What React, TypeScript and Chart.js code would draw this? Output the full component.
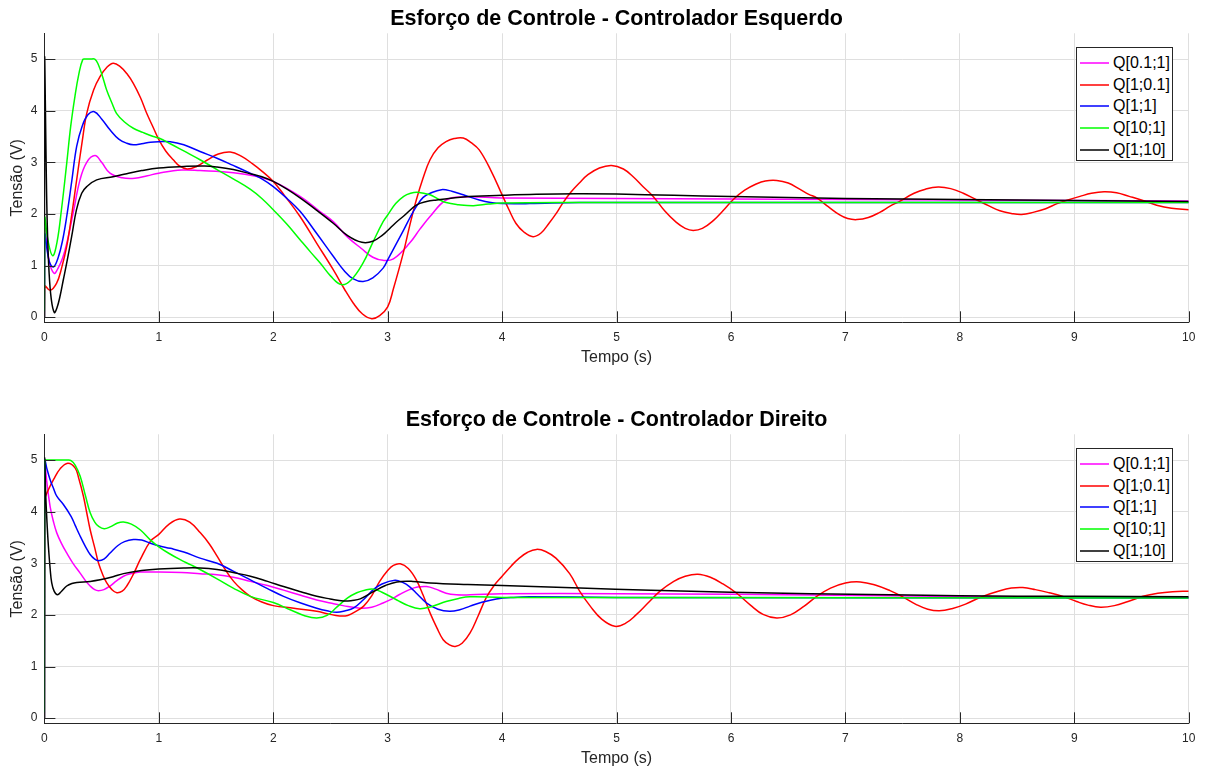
import React, { useEffect, useRef } from "react";
import { Chart, registerables } from "chart.js";

Chart.register(...registerables);

// Legend entries shared by both panels
const seriesLabels = ["Q[0.1;1]", "Q[1;0.1]", "Q[1;1]", "Q[10;1]", "Q[1;10]"];
const seriesColors = ["#ff00ff", "#ff0000", "#0000ff", "#00ff00", "#000000"];

const xTickValues = [0, 1, 2, 3, 4, 5, 6, 7, 8, 9, 10];
const yTickValues = [0, 1, 2, 3, 4, 5];

// Left controller: [time (s), voltage (V)]
const esqQ01_1: [number, number][] = [
  [0, 0], [0.003, 1.75], [0.04, 1.1], [0.084, 0.85], [0.12, 0.95], [0.16, 1.15], [0.195, 1.43],
  [0.25, 2.0], [0.311, 2.66], [0.37, 3.0], [0.442, 3.13], [0.5, 3.0], [0.573, 2.79], [0.68, 2.7],
  [0.79, 2.69], [0.9, 2.74], [1.0, 2.79], [1.2, 2.85], [1.36, 2.84], [1.653, 2.8], [1.85, 2.73],
  [2.0, 2.63], [2.234, 2.34], [2.4, 2.06], [2.524, 1.85], [2.65, 1.55], [2.77, 1.33], [2.87, 1.16],
  [2.96, 1.1], [3.05, 1.13], [3.19, 1.43], [3.28, 1.7], [3.37, 1.95], [3.51, 2.27], [3.66, 2.33],
  [4.0, 2.31], [5.0, 2.3], [6.0, 2.29], [7.0, 2.28], [8.0, 2.27], [9.0, 2.26], [10, 2.25],
];
const esqQ1_01: [number, number][] = [
  [0, 0], [0.003, 0.6], [0.05, 0.52], [0.107, 0.66], [0.15, 0.95], [0.195, 1.37], [0.24, 2.0],
  [0.282, 2.66], [0.33, 3.4], [0.37, 3.95], [0.43, 4.4], [0.486, 4.66], [0.55, 4.85], [0.602, 4.92],
  [0.66, 4.86], [0.72, 4.72], [0.777, 4.53], [0.84, 4.25], [0.894, 3.95], [0.95, 3.68], [1.0, 3.44],
  [1.06, 3.22], [1.126, 3.05], [1.18, 2.93], [1.247, 2.87], [1.33, 2.92], [1.42, 3.04], [1.52, 3.16],
  [1.624, 3.2], [1.72, 3.12], [1.82, 2.97], [1.9, 2.83], [2.0, 2.63], [2.1, 2.35], [2.234, 1.95],
  [2.38, 1.43], [2.524, 0.92], [2.62, 0.55], [2.7, 0.27], [2.78, 0.06], [2.86, -0.03], [2.93, 0.03],
  [3.0, 0.2], [3.05, 0.55], [3.136, 1.24], [3.19, 1.75], [3.25, 2.27], [3.31, 2.7], [3.37, 3.05],
  [3.44, 3.28], [3.51, 3.4], [3.58, 3.46], [3.66, 3.47], [3.73, 3.38], [3.8, 3.24], [3.9, 2.85],
  [4.0, 2.37], [4.06, 2.08], [4.12, 1.82], [4.19, 1.65], [4.27, 1.56], [4.34, 1.63], [4.41, 1.82],
  [4.47, 2.0], [4.53, 2.21], [4.6, 2.42], [4.675, 2.6], [4.75, 2.76], [4.85, 2.89], [4.956, 2.94],
  [5.06, 2.87], [5.15, 2.71], [5.23, 2.53], [5.32, 2.34], [5.42, 2.06], [5.52, 1.84], [5.6, 1.72],
  [5.67, 1.68], [5.75, 1.72], [5.85, 1.88], [5.93, 2.06], [6.02, 2.28], [6.12, 2.46], [6.22, 2.58],
  [6.3, 2.64], [6.4, 2.65], [6.5, 2.6], [6.6, 2.48], [6.68, 2.38], [6.75, 2.31], [6.85, 2.14],
  [6.95, 1.98], [7.02, 1.91], [7.1, 1.89], [7.2, 1.93], [7.3, 2.03], [7.39, 2.15], [7.47, 2.24],
  [7.6, 2.4], [7.7, 2.48], [7.81, 2.52], [7.92, 2.49], [8.03, 2.4], [8.14, 2.28], [8.25, 2.16],
  [8.35, 2.06], [8.45, 2.01], [8.54, 1.99], [8.64, 2.03], [8.75, 2.1], [8.85, 2.2], [8.93, 2.26],
  [9.05, 2.34], [9.15, 2.4], [9.26, 2.43], [9.37, 2.41], [9.48, 2.34], [9.6, 2.26], [9.72, 2.17],
  [9.85, 2.11], [10, 2.08],
];
const esqQ1_1: [number, number][] = [
  [0, 0], [0.003, 1.6], [0.04, 1.1], [0.078, 0.97], [0.12, 1.15], [0.16, 1.5], [0.195, 1.95],
  [0.24, 2.65], [0.282, 3.31], [0.33, 3.7], [0.38, 3.92], [0.436, 3.98], [0.5, 3.84], [0.573, 3.63],
  [0.65, 3.45], [0.72, 3.37], [0.777, 3.34], [0.85, 3.36], [0.927, 3.39], [1.0, 3.4], [1.1, 3.4],
  [1.218, 3.34], [1.36, 3.21], [1.508, 3.08], [1.65, 2.94], [1.798, 2.79], [1.9, 2.68], [2.0, 2.53],
  [2.12, 2.3], [2.234, 2.05], [2.38, 1.62], [2.524, 1.18], [2.62, 0.9], [2.7, 0.74], [2.785, 0.69],
  [2.87, 0.76], [2.96, 0.95], [3.0, 1.11], [3.07, 1.4], [3.14, 1.69], [3.2, 1.95], [3.25, 2.14],
  [3.31, 2.32], [3.37, 2.4], [3.47, 2.47], [3.56, 2.44], [3.66, 2.37], [3.8, 2.27], [3.9, 2.22],
  [4.0, 2.2], [4.24, 2.2], [4.675, 2.22], [6, 2.22], [8, 2.22], [10, 2.22],
];
const esqQ10_1: [number, number][] = [
  [0, 0], [0.003, 1.92], [0.03, 1.5], [0.072, 1.19], [0.11, 1.45], [0.15, 2.1], [0.195, 2.98],
  [0.23, 3.7], [0.267, 4.28], [0.3, 4.7], [0.335, 4.99], [0.36, 5.0], [0.4, 5.0], [0.44, 5.0],
  [0.47, 4.9], [0.51, 4.65], [0.544, 4.4], [0.59, 4.15], [0.63, 3.95], [0.7, 3.78], [0.777, 3.66],
  [0.86, 3.58], [0.952, 3.5], [1.0, 3.47], [1.1, 3.36], [1.218, 3.22], [1.36, 3.05], [1.508, 2.86],
  [1.65, 2.68], [1.798, 2.48], [1.9, 2.3], [2.0, 2.08], [2.12, 1.8], [2.234, 1.5], [2.33, 1.25],
  [2.41, 1.05], [2.5, 0.8], [2.596, 0.63], [2.68, 0.72], [2.785, 1.05], [2.87, 1.45], [2.96, 1.85],
  [3.0, 1.98], [3.07, 2.2], [3.14, 2.34], [3.2, 2.4], [3.26, 2.42], [3.37, 2.37], [3.44, 2.29],
  [3.51, 2.22], [3.62, 2.18], [3.75, 2.16], [3.88, 2.19], [4.0, 2.21], [4.5, 2.22], [10, 2.22],
];
const esqQ1_10: [number, number][] = [
  [0, 0], [0.002, 5.0], [0.008, 4.2], [0.015, 3.0], [0.025, 1.8], [0.04, 0.9], [0.06, 0.35],
  [0.087, 0.09], [0.11, 0.18], [0.136, 0.4], [0.165, 0.72], [0.195, 1.05], [0.238, 1.56],
  [0.28, 2.08], [0.326, 2.4], [0.37, 2.53], [0.457, 2.66], [0.6, 2.72], [0.72, 2.78], [0.85, 2.84],
  [1.0, 2.89], [1.218, 2.92], [1.4, 2.93], [1.508, 2.91], [1.65, 2.86], [1.798, 2.78], [1.9, 2.72],
  [2.0, 2.63], [2.12, 2.48], [2.234, 2.31], [2.38, 2.07], [2.524, 1.82], [2.65, 1.58], [2.774, 1.45],
  [2.87, 1.47], [2.96, 1.6], [3.0, 1.68], [3.07, 1.83], [3.14, 1.96], [3.25, 2.17], [3.34, 2.24],
  [3.43, 2.27], [3.66, 2.33], [4.0, 2.36], [4.3, 2.38], [4.65, 2.39], [5.0, 2.385], [5.5, 2.36],
  [6.0, 2.34], [6.5, 2.32], [7.0, 2.3], [7.5, 2.29], [8.0, 2.28], [8.5, 2.27], [9.0, 2.26],
  [9.5, 2.25], [10, 2.24],
];

// Right controller: [time (s), voltage (V)]
const dirQ01_1: [number, number][] = [
  [0, 0], [0.003, 4.95], [0.02, 4.6], [0.05, 4.1], [0.08, 3.8], [0.108, 3.59], [0.15, 3.38],
  [0.195, 3.2], [0.25, 3.0], [0.312, 2.81], [0.36, 2.66], [0.4, 2.56], [0.44, 2.49], [0.472, 2.47],
  [0.52, 2.49], [0.574, 2.56], [0.63, 2.66], [0.691, 2.75], [0.76, 2.8], [0.837, 2.83], [1.0, 2.83],
  [1.2, 2.82], [1.36, 2.8], [1.509, 2.78], [1.65, 2.73], [1.8, 2.65], [1.95, 2.57], [2.09, 2.48],
  [2.24, 2.38], [2.38, 2.29], [2.5, 2.23], [2.61, 2.18], [2.76, 2.13], [2.86, 2.15], [2.96, 2.23],
  [3.02, 2.29], [3.107, 2.4], [3.19, 2.49], [3.26, 2.54], [3.34, 2.55], [3.42, 2.5], [3.51, 2.42],
  [3.6, 2.39], [3.72, 2.39], [4.0, 2.41], [5.0, 2.41], [6, 2.4], [7.39, 2.37], [8.5, 2.35],
  [10, 2.34],
];
const dirQ1_01: [number, number][] = [
  [0, 0], [0.003, 4.22], [0.04, 4.45], [0.079, 4.62], [0.137, 4.83], [0.204, 4.94], [0.268, 4.85],
  [0.3, 4.65], [0.341, 4.3], [0.37, 3.98], [0.4, 3.65], [0.44, 3.3], [0.472, 3.01], [0.51, 2.78],
  [0.545, 2.62], [0.59, 2.49], [0.633, 2.43], [0.68, 2.46], [0.72, 2.56], [0.78, 2.8], [0.837, 3.07],
  [0.927, 3.43], [1.0, 3.56], [1.09, 3.76], [1.18, 3.86], [1.27, 3.8], [1.363, 3.59], [1.44, 3.38],
  [1.509, 3.14], [1.58, 2.88], [1.654, 2.65], [1.73, 2.48], [1.8, 2.36], [1.9, 2.25], [2.0, 2.18],
  [2.18, 2.13], [2.38, 2.07], [2.48, 2.02], [2.58, 1.98], [2.65, 1.99], [2.73, 2.08], [2.79, 2.17],
  [2.86, 2.37], [2.93, 2.65], [3.0, 2.86], [3.05, 2.96], [3.11, 2.99], [3.18, 2.9], [3.25, 2.68],
  [3.31, 2.38], [3.37, 2.04], [3.43, 1.75], [3.485, 1.52], [3.54, 1.42], [3.59, 1.39], [3.65, 1.45],
  [3.72, 1.65], [3.79, 1.98], [3.86, 2.33], [3.93, 2.57], [4.0, 2.75], [4.08, 2.95], [4.15, 3.1],
  [4.22, 3.21], [4.3, 3.27], [4.38, 3.23], [4.47, 3.1], [4.59, 2.8], [4.68, 2.45], [4.77, 2.17],
  [4.87, 1.92], [4.985, 1.78], [5.08, 1.84], [5.17, 2.0], [5.27, 2.22], [5.38, 2.46], [5.5, 2.65],
  [5.6, 2.75], [5.71, 2.79], [5.82, 2.73], [5.93, 2.6], [6.05, 2.42], [6.17, 2.19], [6.28, 2.01],
  [6.4, 1.94], [6.52, 2.0], [6.64, 2.17], [6.75, 2.36], [6.87, 2.52], [7.0, 2.62], [7.13, 2.64],
  [7.26, 2.58], [7.39, 2.47], [7.5, 2.35], [7.62, 2.2], [7.72, 2.11], [7.82, 2.08], [7.93, 2.12],
  [8.05, 2.21], [8.2, 2.36], [8.35, 2.47], [8.45, 2.52], [8.55, 2.53], [8.66, 2.49], [8.78, 2.43],
  [8.9, 2.36], [9.02, 2.26], [9.12, 2.19], [9.23, 2.15], [9.35, 2.18], [9.47, 2.26], [9.6, 2.36],
  [9.73, 2.42], [9.86, 2.45], [10, 2.46],
];
const dirQ1_1: [number, number][] = [
  [0, 0], [0.003, 5.0], [0.02, 4.85], [0.05, 4.62], [0.08, 4.45], [0.108, 4.3], [0.166, 4.14],
  [0.233, 3.91], [0.27, 3.73], [0.312, 3.53], [0.36, 3.32], [0.4, 3.17], [0.44, 3.08], [0.472, 3.05],
  [0.52, 3.08], [0.574, 3.2], [0.64, 3.34], [0.7, 3.42], [0.778, 3.46], [0.85, 3.45], [0.927, 3.39],
  [1.0, 3.34], [1.1, 3.29], [1.218, 3.22], [1.36, 3.1], [1.509, 3.0], [1.65, 2.85], [1.8, 2.68],
  [1.95, 2.51], [2.09, 2.36], [2.24, 2.23], [2.38, 2.13], [2.47, 2.08], [2.555, 2.05], [2.63, 2.08],
  [2.7, 2.13], [2.79, 2.3], [2.875, 2.49], [2.95, 2.6], [3.064, 2.67], [3.13, 2.63], [3.19, 2.55],
  [3.26, 2.4], [3.34, 2.23], [3.44, 2.11], [3.54, 2.07], [3.63, 2.1], [3.72, 2.17], [3.83, 2.25],
  [3.95, 2.31], [4.1, 2.34], [4.24, 2.35], [5, 2.34], [10, 2.33],
];
const dirQ10_1: [number, number][] = [
  [0, 0], [0.003, 5.0], [0.01, 5.0], [0.12, 5.0], [0.2, 5.0], [0.233, 4.99], [0.27, 4.9],
  [0.312, 4.69], [0.36, 4.3], [0.4, 3.98], [0.44, 3.8], [0.472, 3.72], [0.522, 3.67], [0.58, 3.71],
  [0.64, 3.78], [0.691, 3.8], [0.76, 3.76], [0.837, 3.65], [0.927, 3.45], [1.0, 3.32], [1.09, 3.19],
  [1.187, 3.07], [1.28, 2.97], [1.36, 2.88], [1.509, 2.7], [1.65, 2.52], [1.8, 2.36], [2.0, 2.24],
  [2.148, 2.1], [2.28, 1.98], [2.38, 1.94], [2.47, 1.99], [2.555, 2.15], [2.65, 2.33], [2.73, 2.43],
  [2.8, 2.48], [2.875, 2.5], [2.95, 2.44], [3.08, 2.29], [3.18, 2.18], [3.28, 2.12], [3.38, 2.16],
  [3.51, 2.26], [3.62, 2.32], [3.72, 2.35], [4.0, 2.34], [10, 2.33],
];
const dirQ1_10: [number, number][] = [
  [0, 0], [0.002, 5.0], [0.012, 4.3], [0.025, 3.7], [0.035, 3.33], [0.05, 2.9], [0.064, 2.62],
  [0.085, 2.46], [0.114, 2.39], [0.15, 2.46], [0.195, 2.56], [0.24, 2.61], [0.283, 2.63], [0.4, 2.65],
  [0.487, 2.68], [0.6, 2.74], [0.691, 2.8], [0.85, 2.86], [1.0, 2.89], [1.218, 2.91], [1.36, 2.91],
  [1.509, 2.88], [1.65, 2.82], [1.8, 2.75], [1.95, 2.65], [2.09, 2.55], [2.24, 2.45], [2.38, 2.36],
  [2.497, 2.31], [2.613, 2.27], [2.69, 2.28], [2.76, 2.31], [2.875, 2.45], [2.98, 2.57], [3.08, 2.64],
  [3.22, 2.65], [3.37, 2.62], [3.7, 2.59], [4.0, 2.57], [4.68, 2.52], [5.3, 2.48], [6.0, 2.44],
  [6.7, 2.41], [7.39, 2.39], [8.0, 2.37], [9.0, 2.36], [10, 2.35],
];

const esquerdoSeries = [esqQ01_1, esqQ1_01, esqQ1_1, esqQ10_1, esqQ1_10];
const direitoSeries = [dirQ01_1, dirQ1_01, dirQ1_1, dirQ10_1, dirQ1_10];

const FONT = '"Liberation Sans", Arial, Helvetica, sans-serif';
const AXIS_COLOR = "#262626";
const GRID_COLOR = "#dfdfdf";
const CANVAS_W = 1208;
const CANVAS_H = 374;

// Short tick marks drawn inward from the left and bottom axes
const insideTicks = {
  id: "insideTicks",
  afterDraw(chart: any) {
    const { ctx, chartArea, scales } = chart;
    const len = 11;
    ctx.save();
    ctx.strokeStyle = AXIS_COLOR;
    ctx.lineWidth = 1;
    ctx.beginPath();
    for (const v of xTickValues) {
      const px = Math.round(scales.x.getPixelForValue(v)) + 0.5;
      ctx.moveTo(px, chartArea.bottom);
      ctx.lineTo(px, chartArea.bottom - len);
    }
    for (const v of yTickValues) {
      const py = Math.round(scales.y.getPixelForValue(v)) + 0.5;
      ctx.moveTo(chartArea.left, py);
      ctx.lineTo(chartArea.left + len, py);
    }
    ctx.stroke();
    ctx.restore();
  },
};

function Panel(props: { top: number; title: string; series: [number, number][][] }) {
  const canvasRef = useRef<HTMLCanvasElement | null>(null);

  useEffect(() => {
    const canvas = canvasRef.current;
    if (!canvas) return;
    const chart = new Chart(canvas, {
      type: "line",
      data: {
        datasets: props.series.map((pts, i) => ({
          label: seriesLabels[i],
          data: pts.map(([x, y]) => ({ x, y })),
          borderColor: seriesColors[i],
          backgroundColor: seriesColors[i],
          borderWidth: 1.5,
          pointRadius: 0,
          fill: false,
          tension: 0.4,
          order: seriesLabels.length - 1 - i,
        })),
      },
      options: {
        animation: false,
        responsive: false,
        events: [],
        layout: { padding: { left: 0, right: 19.3, top: 0, bottom: 0 } },
        plugins: {
          legend: { display: false },
          tooltip: { enabled: false },
          title: {
            display: true,
            fullSize: false,
            text: props.title,
            color: "#000000",
            font: { family: FONT, size: 21.5, weight: "bold", lineHeight: 1.2 },
            padding: { top: 6.6, bottom: 0.9 },
          },
        },
        scales: {
          x: {
            type: "linear",
            min: 0,
            max: 10,
            afterBuildTicks: (s: any) => {
              s.ticks = xTickValues.map((value) => ({ value }));
            },
            afterFit: (s: any) => {
              s.height = 51.7;
            },
            grid: { color: GRID_COLOR, drawTicks: false, lineWidth: 1 },
            border: { display: true, color: AXIS_COLOR, width: 1 },
            ticks: {
              color: AXIS_COLOR,
              font: { family: FONT, size: 12 },
              padding: 8,
              maxRotation: 0,
              autoSkip: false,
            },
            title: {
              display: true,
              text: "Tempo (s)",
              color: AXIS_COLOR,
              font: { family: FONT, size: 16, lineHeight: 1.2 },
              padding: { top: 0, bottom: 6.4 },
            },
          },
          y: {
            type: "linear",
            min: -0.1,
            max: 5.5,
            afterBuildTicks: (s: any) => {
              s.ticks = yTickValues.map((value) => ({ value }));
            },
            afterFit: (s: any) => {
              s.width = 44.4;
            },
            grid: { color: GRID_COLOR, drawTicks: false, lineWidth: 1 },
            border: { display: true, color: AXIS_COLOR, width: 1 },
            ticks: {
              color: AXIS_COLOR,
              font: { family: FONT, size: 12 },
              padding: 7,
            },
            title: {
              display: true,
              text: "Tensão (V)",
              color: AXIS_COLOR,
              font: { family: FONT, size: 16, lineHeight: 1.2 },
              padding: { top: 8.4, bottom: 0 },
            },
          },
        },
      },
      plugins: [insideTicks],
    } as any);
    return () => chart.destroy();
  }, [props.series, props.title]);

  return (
    <div style={{ position: "absolute", left: 0, top: props.top, width: CANVAS_W, height: CANVAS_H }}>
      <canvas
        ref={canvasRef}
        width={CANVAS_W}
        height={CANVAS_H}
        style={{ display: "block", width: CANVAS_W, height: CANVAS_H }}
      />
      <div
        style={{
          position: "absolute",
          left: 1076,
          top: 46.7,
          width: 97,
          height: 114,
          boxSizing: "border-box",
          border: `1px solid ${AXIS_COLOR}`,
          background: "#ffffff",
          fontFamily: FONT,
          fontSize: 16,
          color: "#000000",
        }}
      >
        {seriesLabels.map((label, i) => (
          <div
            key={label}
            style={{
              position: "absolute",
              left: 3,
              top: 4.6 + i * 21.6,
              height: 22,
              display: "flex",
              alignItems: "center",
              whiteSpace: "nowrap",
            }}
          >
            <svg width={29} height={4} style={{ display: "block" }}>
              <line x1={0} y1={2} x2={29} y2={2} stroke={seriesColors[i]} strokeWidth={1.5} />
            </svg>
            <span style={{ marginLeft: 4, lineHeight: "22px" }}>{label}</span>
          </div>
        ))}
      </div>
    </div>
  );
}

export default function App() {
  return (
    <div
      style={{
        position: "fixed",
        left: 0,
        top: 0,
        width: CANVAS_W,
        height: 774,
        background: "#ffffff",
        overflow: "hidden",
      }}
    >
      <Panel top={0} title="Esforço de Controle - Controlador Esquerdo" series={esquerdoSeries} />
      <Panel top={401} title="Esforço de Controle - Controlador Direito" series={direitoSeries} />
    </div>
  );
}
